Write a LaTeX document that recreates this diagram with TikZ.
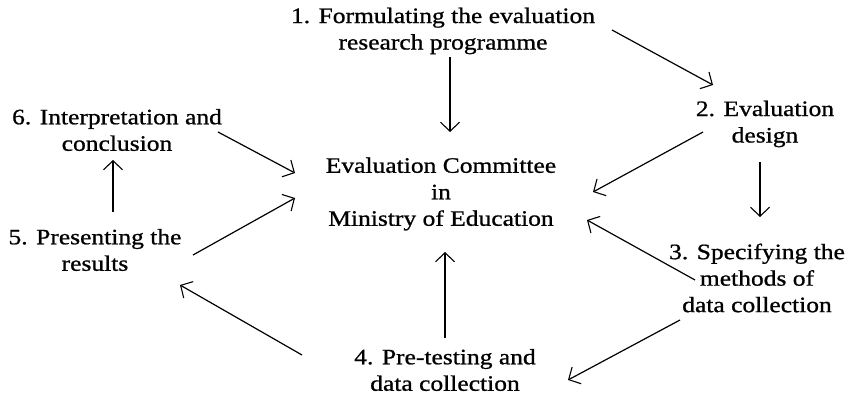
\documentclass[tikz,border=0pt]{standalone}
\usepackage{fontspec}
\setmainfont[FakeStretch=1.16,FakeBold=0.9]{Liberation Serif}
\usetikzlibrary{arrows.meta}
\tikzset{
  lbl/.style={align=center, inner sep=0pt, font=\fontsize{22}{26.5}\selectfont},
  arr/.style={-{Straight Barb[length=9pt,width=19pt,line width=1.1pt]}, line width=1.2pt}
}
\begin{document}
\begin{tikzpicture}[x=1pt,y=1pt]
\useasboundingbox (0,0) rectangle (853,399);
\node[lbl] (n1) at (443,368) {1. Formulating the evaluation\\research programme};
\node[lbl] (n2) at (765,275) {2. Evaluation\\design};
\node[lbl] (n3) at (757,121) {3. Specifying the\\methods of\\data collection};
\node[lbl] (n4) at (445,29) {4. Pre-testing and\\data collection};
\node[lbl] (n5) at (95,149) {5. Presenting the\\results};
\node[lbl] (n6) at (117,269) {6. Interpretation and\\conclusion};
\node[lbl] (c) at (441,205) {Evaluation Committee\\in\\Ministry of Education};

\draw[arr] ([shift={(7pt,-26pt)}]n1.center) -- ([shift={(9pt,62pt)}]c.center);
\draw[arr] ([shift={(169pt,1pt)}]n1.center) -- ([shift={(-52pt,39pt)}]n2.center);
\draw[arr] ([shift={(-62pt,-8pt)}]n2.center) -- ([shift={(152pt,2pt)}]c.center);
\draw[arr] ([shift={(-5pt,-38pt)}]n2.center) -- ([shift={(3pt,61pt)}]n3.center);
\draw[arr] ([shift={(-62pt,-2pt)}]n3.center) -- ([shift={(146pt,-26pt)}]c.center);
\draw[arr] ([shift={(-77pt,-42pt)}]n3.center) -- ([shift={(123pt,-10pt)}]n4.center);
\draw[arr] ([shift={(0pt,32pt)}]n4.center) -- ([shift={(4pt,-58pt)}]c.center);
\draw[arr] ([shift={(-143pt,15pt)}]n4.center) -- ([shift={(85pt,-35pt)}]n5.center);
\draw[arr] ([shift={(98pt,-5pt)}]n5.center) -- ([shift={(-146pt,-4pt)}]c.center);
\draw[arr] ([shift={(18pt,38pt)}]n5.center) -- ([shift={(-4pt,-30pt)}]n6.center);
\draw[arr] ([shift={(101pt,-2pt)}]n6.center) -- ([shift={(-146pt,21pt)}]c.center);
\end{tikzpicture}
\end{document}
